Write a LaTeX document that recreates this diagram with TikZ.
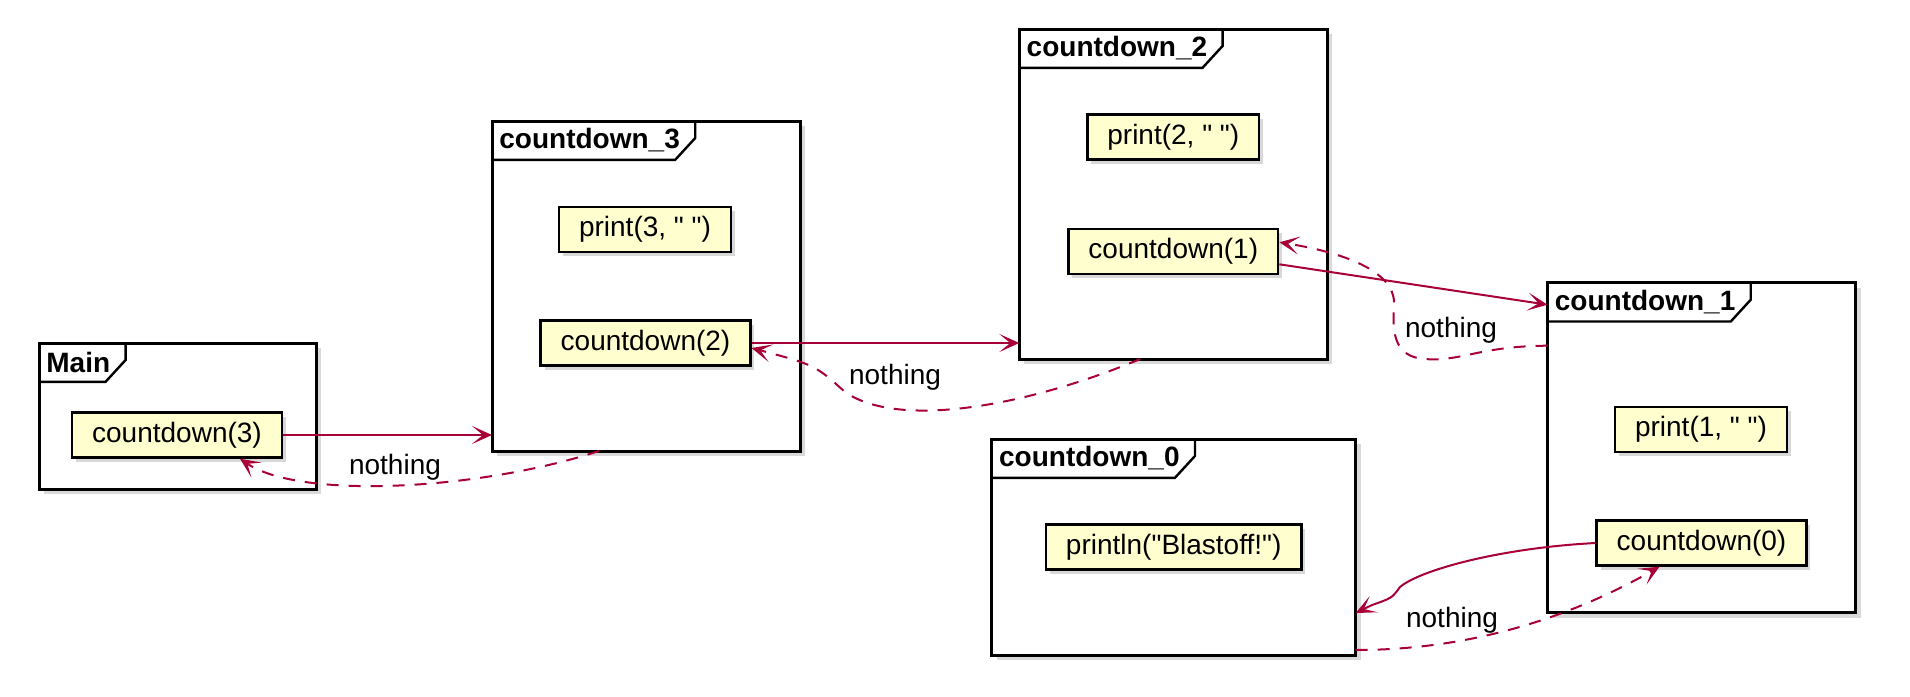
\documentclass[tikz,border=0pt]{standalone}
\usepackage{fontspec}
\setmainfont{Liberation Sans}
\usetikzlibrary{calc,shadows,arrows.meta}
\definecolor{plumred}{HTML}{A80036}
\definecolor{notefill}{HTML}{FEFECE}
\newcommand{\dqt}{\XeTeXglyph\XeTeXcharglyph"22\relax}

\begin{document}
\begin{tikzpicture}[x=0.5pt,y=-0.5pt,
  cframe/.style={draw,line width=1.5pt,fill=white,outer sep=0pt,
    drop shadow={shadow xshift=2.5pt,shadow yshift=-2.5pt,opacity=0.3}},
  ctab/.style={anchor=north west,inner xsep=3.5pt,inner ysep=0pt,minimum height=19pt,
    font=\fontsize{14pt}{16pt}\selectfont\bfseries},
  cnote/.style={draw,line width=1.2pt,fill=notefill,inner xsep=10pt,inner ysep=0pt,
    minimum height=22.5pt,font=\fontsize{14pt}{16pt}\selectfont,
    drop shadow={shadow xshift=2pt,shadow yshift=-2pt,opacity=0.3}},
  tabline/.style={line width=1.2pt},
  call/.style={plumred,line width=1pt,-{Stealth[length=10pt,width=9pt,inset=5.5pt]}},
  ret/.style={call,dash pattern=on 6pt off 5pt},
  lbl/.style={font=\fontsize{14pt}{16pt}\selectfont,inner sep=0pt}]
\useasboundingbox (0,0) rectangle (1910,696);

\node[cframe,minimum width=138.5pt,minimum height=73pt] (FM) at (177.5,416) {};
\node[cframe,minimum width=154pt,minimum height=165pt] (F3) at (646,286) {};
\node[cframe,minimum width=154pt,minimum height=165pt] (F2) at (1173.3,194) {};
\node[cframe,minimum width=154pt,minimum height=165pt] (F1) at (1701.5,447.7) {};
\node[cframe,minimum width=182pt,minimum height=108pt] (F0) at (1173.7,547) {};

\node[ctab] (TM) at (FM.north west) {Main};
\node[ctab] (T3) at (F3.north west) {countdown\_3};
\node[ctab] (T2) at (F2.north west) {countdown\_2};
\node[ctab] (T1) at (F1.north west) {countdown\_1};
\node[ctab] (T0) at (F0.north west) {countdown\_0};
\foreach \t in {TM,T3,T2,T1,T0}
  \draw[tabline] (\t.south west) -- ($(\t.south east)+(-12,0)$) -- ($(\t.north east)+(8,17)$) -- ($(\t.north east)+(8,0)$);

\node[cnote] (cd3) at (177,435) {countdown(3)};
\node[cnote] (pr3) at (645,229.5) {print(3, \dqt\ \dqt)};
\node[cnote] (cd2) at (645.5,343) {countdown(2)};
\node[cnote] (pr2) at (1173.3,137) {print(2, \dqt\ \dqt)};
\node[cnote] (cd1) at (1173.3,251.3) {countdown(1)};
\node[cnote] (pr1) at (1701,429.3) {print(1, \dqt\ \dqt)};
\node[cnote] (cd0) at (1701.5,543) {countdown(0)};
\node[cnote] (bl) at (1173.7,547) {println(\dqt Blastoff!\dqt)};

\draw[call] (cd3.east) -- (cd3.east -| F3.west);
\draw[ret] ($(F3.south west)+(107,0)$) .. controls (480,490) and (300,500) .. ($(cd3.south)+(63,0)$);
\draw[call] (cd2.east) -- (cd2.east -| F2.west);
\draw[ret] ($(F2.south west)+(121,0)$) .. controls (1030,405) and (900,430) .. (845,392) .. controls (815,365) .. ($(cd2.east)+(0,5)$);
\draw[call] ($(cd1.east)+(0,13)$) -- ($(F1.north west)+(0,22)$);
\draw[ret] ($(F1.north west)+(0,63)$) .. controls (1480,346) and (1460,362) .. (1425,359) .. controls (1395,357) and (1392,335) .. (1394,305) .. controls (1396,270) and (1340,252) .. ($(cd1.east)+(0,-9)$);
\draw[call] (cd0.west) .. controls (1500,548) and (1420,570) .. (1400,587) .. controls (1392,598) .. (1372,605) -- ($(F0.south east)+(0,-42)$);
\draw[ret] ($(F0.south east)+(0,-5)$) .. controls (1480,650) and (1580,612) .. ($(cd0.south)+(-42,0)$);

\node[lbl] (r3) at (395,467) {nothing};
\node[lbl] (r2) at (895,377) {nothing};
\node[lbl] (r1) at (1451,330) {nothing};
\node[lbl] (r0) at (1452,620) {nothing};
\end{tikzpicture}
\end{document}
